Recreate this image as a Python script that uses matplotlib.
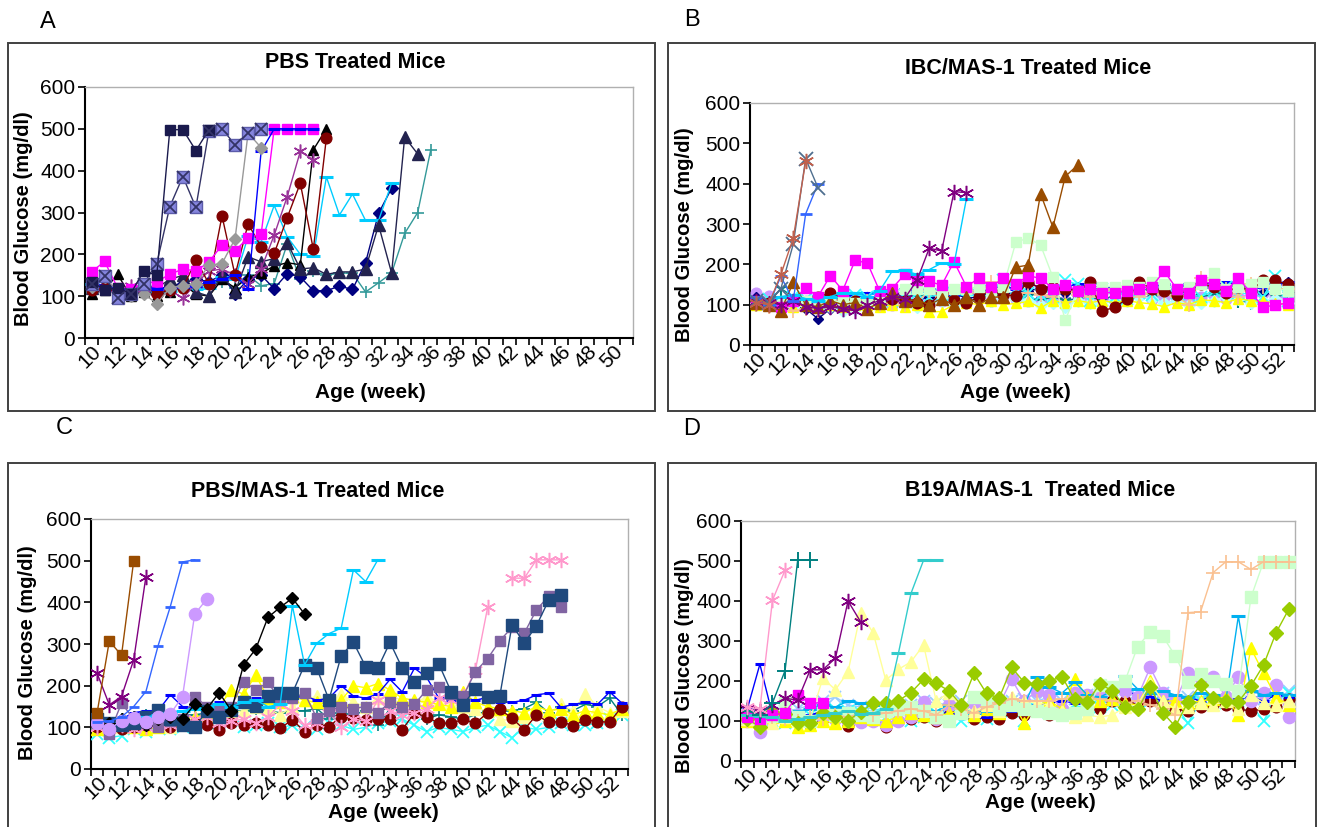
#Blood glucose vs age for the four treatment groups (panels A-D)

import matplotlib.pyplot as plt
import matplotlib.patches as patches
import numpy as np

nan = np.nan

#each list starts at week 10, one value per week

# ---- A: PBS treated mice
a_navy_sq = [135,115,120,106,160,150,498,498,448,498]
a_slate_box = [130,148,95,105,130,178,314,386,312,496,500,462,490,500]
a_grey_dia = [122,147,110,100,106,82,120,125,130,174,178,237,490,455]
a_blue_dash = [130,125,118,112,122,118,120,122,125,135,140,150,118,446,500,500,500,500]
a_magenta_sq = [158,183,120,118,130,135,152,165,160,182,222,208,240,248,500,500,500,500]
a_red_circ = [115,120,110,105,125,105,115,120,186,130,292,150,273,218,202,288,370,212,478]
a_purple_ast = [125,120,110,125,120,110,115,95,130,160,165,150,130,165,246,338,446,426]
a_black_tri = [105,115,152,100,110,100,110,130,105,100,140,120,145,155,172,180,175,450,500]
a_navy_tri = [120,130,115,110,125,120,140,150,110,100,150,110,194,182,190,228,165,168,152,158,
              158,165,270,155,480,440]
a_navy_dia = [130,125,115,110,120,115,125,130,140,135,150,106,140,150,118,154,146,113,113,124,
              116,180,298,358]
a_cyan_dash = [130,125,115,118,125,112,112,120,118,120,145,140,243,230,317,242,200,195,385,294,
               344,281,281,370]
a_teal_plus = [110,120,118,105,115,110,120,125,118,130,135,120,150,125,130,225,140,160,150,155,
               155,110,132,155,250,300,450]

# ---- B: IBC/MAS-1 treated mice
b_lavender = [130,122,105,100,110,105,100,95,100,105,110,100,105,110,115,110,105,110,115,110,
              120,115,110,115,120,110,115,120,115,110,120,125,115,120,110,115,120,125,115,120,
              125,130,120,115]
b_lcyan_dia = [105,110,100,95,100,90,95,85,90,95,100,105,100,95,105,110,100,105,115,110,
               120,115,110,100,105,95,110,105,100,115,110,120,115,105,110,100,105,110,120,115,
               105,110,115,105]
b_cyan_x = [110,115,105,120,115,110,100,105,125,120,115,110,125,130,120,125,130,120,125,135,
            160,140,130,125,120,160,150,110,140,120,115,130,125,140,130,125,120,135,145,130,
            125,120,170,110]
b_teal_tri = [100,105,140,120,110,105,95,100,105,110,115,120,125,120,125,130,120,125,130,120,
              125,120,118,110,120,110,115,120,110,125,130,115,120,125,130,125,120,125,130,110,
              105,100,120,125]
b_navy_dia = [120,100,90,95,90,65,90,100,105,110,115,120,115,110,120,125,130,115,120,130,
              125,130,135,140,135,130,145,140,140,145,130,140,135,140,125,135,150,155,145,140,
              135,130,150,155]
b_blue_dash = [120,110,95,100,110,105,115,120,125,130,125,130,140,135,140,130,125,140,130,140,
               145,140,150,145,140,145,150,140,145,140,135,150,145,150,140,150,145,150,155,150,
               140,145,150,155]
b_yellow_tri = [100,105,100,95,100,95,100,95,100,100,95,100,95,100,82,83,100,105,100,108,
                100,103,108,92,110,105,110,105,110,105,110,105,102,95,105,100,112,110,105,115,
                110,108,105,100]
b_peach_plus = [100,95,100,85,90,85,100,110,115,110,100,105,100,105,135,120,130,140,130,155,
                120,125,130,125,120,135,125,120,130,140,135,120,130,125,120,100,165,160,140,120,
                150,145,140,140]
b_red_circ = [110,105,100,110,105,118,130,115,110,105,110,115,110,105,100,130,112,103,120,135,
              125,122,157,140,145,140,135,155,85,93,115,155,140,135,125,140,150,145,130,145,
              135,160,160,150]
b_lgreen_sq = [105,100,110,115,110,100,105,110,105,110,120,130,140,140,138,130,140,138,145,135,
               145,255,265,248,168,62,135,140,145,145,148,145,155,150,140,145,150,178,140,145,
               150,155,140,135]
b_magenta_sq = [110,100,95,110,142,120,172,135,210,203,133,140,175,160,158,148,207,145,165,145,
                165,150,172,165,140,148,135,140,130,130,135,140,145,183,140,130,160,150,135,165,
                130,95,98,105]
b_brown_tri = [105,100,85,155,100,95,110,100,105,90,105,130,110,112,100,115,98,120,100,118,
               120,193,198,375,292,418,446]
b_purple_ast = [110,105,100,110,95,90,95,90,85,100,110,120,115,160,240,233,380,378]
b_cyan_dash = [115,100,120,125,115,110,120,130,130,120,135,183,185,175,187,203,200,362]
b_red_ast = [105,100,175,265,455]
b_grey_x = [110,105,140,250,462,390]
b_royal_dash = [118,100,170,110,325,400]

# ---- C: PBS/MAS-1 treated mice
c_cyan_x = [85,75,80,95,90,100,95,100,105,110,110,115,100,105,110,100,105,100,95,110,
            105,95,100,110,115,120,105,90,100,95,90,100,105,90,75,100,95,100,110,105,
            105,110,120,130]
c_teal_plus = [110,105,120,125,130,125,120,125,130,135,130,135,140,145,140,135,140,140,145,120,
               135,130,140,105,145,140,135,120,130,125,120,130,140,145,140,145,160,135,150,140,
               155,150,170,130]
c_lyellow_tri = [105,110,100,115,120,105,100,110,120,125,130,135,140,150,145,130,150,165,175,155,
                 180,160,150,170,175,165,155,175,160,155,150,145,140,120,115,125,135,130,155,140,
                 180,150,135,140]
c_yellow_tri = [95,100,105,100,95,100,110,120,125,130,150,190,180,225,170,160,175,165,160,155,
                165,200,195,205,190,170,165,160,155,150,185,160,150,145,140,135,150,140,145,130,
                140,135,130,145]
c_red_circ = [100,105,95,100,105,110,100,105,110,105,94,110,105,110,105,98,118,90,105,102,
              126,122,118,120,119,94,135,125,110,110,119,110,135,143,122,94,130,112,114,104,
              118,114,112,150]
c_blue_dash = [110,115,120,135,140,140,178,150,145,150,160,150,160,170,165,160,170,175,165,170,
               200,175,170,180,215,185,242,220,170,165,170,165,172,162,160,165,178,182,148,155,
               160,155,185,158]
c_pink_ast = [100,95,105,95,100,110,105,110,120,125,110,115,120,110,125,155,140,105,110,135,
              100,120,115,165,140,130,135,145,170,165,175,238,388,nan,458,458,502,502,502]
c_pgrey_sq = [110,85,158,120,110,100,115,120,174,150,140,150,210,190,208,165,170,182,122,140,
              150,145,150,135,160,150,155,190,198,180,175,234,265,308,340,326,382,415,388]
c_navy_sq = [120,110,105,110,125,142,120,105,100,140,125,142,160,152,176,182,182,250,242,166,
             272,304,246,242,304,242,208,230,252,186,154,193,172,176,346,302,344,405,418]
c_cyan_dash = [115,110,118,120,125,130,135,140,145,150,155,150,160,165,150,155,392,250,302,325,
               338,478,450,502]
c_black_dia = [115,110,120,125,105,120,125,120,155,145,183,140,250,288,364,388,410,372]
c_lav_circ = [110,95,116,122,114,126,132,174,372,408]
c_royal_dash = [112,115,125,150,186,296,390,497,502]
c_purple_ast = [230,154,174,262,462]
c_brown_sq = [135,307,273,500]

# ---- D: B19A/MAS-1 treated mice
d_lblue_x = [115,110,120,125,130,140,150,160,140,135,130,125,135,140,150,145,140,150,135,140,
             145,150,155,150,160,150,155,165,160,150,155,160,165,170,150,160,155,150,150,165,
             160,155,150,175]
d_cyan_x = [110,105,100,95,110,115,120,130,125,120,115,110,105,100,110,120,115,100,110,105,
            115,125,100,130,120,120,140,130,135,140,140,150,150,145,140,94,150,140,145,150,
            140,101,150,170]
d_red_circ = [120,110,105,100,95,90,105,110,88,100,110,85,100,105,110,100,115,120,105,110,
              105,120,115,125,115,120,120,125,130,150,150,145,150,140,130,125,135,140,140,130,
              125,130,135,154]
d_royal_dash = [130,242,115,120,110,115,125,120,115,110,118,120,125,120,115,110,120,115,105,110,
                120,125,130,140,145,150,145,150,160,180,175,165,160,150,155,160,150,165,160,155,
                160,150,165,160]
d_lav_circ = [100,73,105,110,115,100,110,105,100,98,100,90,100,110,148,105,140,120,145,130,
              140,204,150,175,165,130,170,165,175,180,175,160,234,170,150,221,207,211,160,211,
              150,170,190,109]
d_yellow_tri = [100,95,110,100,85,90,100,95,100,110,105,100,110,120,115,110,120,125,115,130,
                120,150,95,140,150,130,205,160,150,155,145,140,200,150,150,145,150,155,160,115,
                282,219,160,140]
d_sky_dash = [115,112,110,118,125,130,140,135,150,145,140,145,135,140,130,125,140,130,120,125,
              130,150,140,210,185,170,198,165,160,175,212,180,170,175,165,160,170,165,150,362,
              175,165,170,165]
d_lyellow_tri = [105,100,95,110,100,105,207,178,223,370,320,202,229,248,290,150,170,135,125,140,
                 125,160,150,145,140,125,110,115,110,115,135,140,195,150,130,135,145,140,150,130,
                 165,145,140,150]
d_lgreen_sq = [110,105,112,145,110,100,120,115,120,115,110,125,130,135,125,110,100,120,160,150,
               130,140,130,125,120,115,120,130,190,185,200,286,323,312,262,198,217,200,192,175,
               409,498,498,498]
d_peach_plus = [100,105,110,105,100,110,105,115,110,120,115,120,125,130,125,115,140,130,120,135,
                145,155,150,150,150,155,160,160,155,150,145,150,140,130,115,371,373,471,498,498,
                479,498,498,498]
d_green_dia = [104,86,123,117,94,94,119,111,101,123,144,146,151,171,204,194,176,140,219,169,
               157,234,196,192,200,211,154,148,192,176,134,129,186,121,86,148,190,157,151,148,
               188,240,321,379]
d_magenta_sq = [110,105,115,120,165,144,146]
d_teal_dash = [115,112,110,100,105,110,115,120,125,118,120,130,269,419,502,502]
d_purple_ast = [130,125,140,157,152,228,228,257,400,348]
d_teal_plus = [125,115,145,226,502,502]
d_pink_ast = [135,130,402,477]

# asterisk marker like the Excel "star"
AST = (6, 2, 0)

W, H = 1321, 827
fig = plt.figure(figsize=(W/100, H/100), dpi=100)
plt.rcParams['font.family'] = ['Liberation Sans', 'DejaVu Sans']


def fx(x):
    return x/W


def fy(y):
    return 1 - y/H


def series(ax, vals, color, marker, ms=6, mec=None, lw=1.0, mew=1.0, mfc=None):
    wk = 10 + np.arange(len(vals))
    ax.plot(wk, vals, color=color, lw=lw, marker=marker, ms=ms*1.1,
            mfc=color if mfc is None else mfc,
            mec=color if mec is None else mec, mew=mew, zorder=3)


def panel(box, frame, letter, letter_xy, title, title_xy, ylab_xy, xlab_xy, last):
    l, t, r, b = box
    fig.patches.append(patches.Rectangle((fx(frame[0]), fy(frame[3])),
                                         fx(frame[2]-frame[0]), (frame[3]-frame[1])/H,
                                         transform=fig.transFigure, fill=False,
                                         ec='#404040', lw=1.4))
    ax = fig.add_axes([fx(l), fy(b), fx(r-l), (b-t)/H])
    ax.set_xlim(9.5, last+0.5)
    ax.set_ylim(0, 600)
    ax.set_yticks(range(0, 601, 100))
    ax.set_xticks(np.arange(9.5, last+1, 1))
    ax.set_xticklabels([])
    ev = list(range(10, last+1, 2))
    ax.set_xticks(ev, minor=True)
    ax.set_xticklabels([str(v) for v in ev], minor=True, rotation=45,
                       ha='right', va='top', rotation_mode='anchor', fontsize=15)
    ax.tick_params(axis='x', which='major', direction='out', length=5, width=1.2)
    ax.tick_params(axis='x', which='minor', length=0, pad=3)
    ax.tick_params(axis='y', direction='out', length=5, width=1.2, labelsize=15, pad=2)
    for s in ['top', 'right']:
        ax.spines[s].set_color('#b0b0b0')
        ax.spines[s].set_linewidth(1)
    for s in ['left', 'bottom']:
        ax.spines[s].set_linewidth(1.5)
    fig.text(fx(letter_xy[0]), fy(letter_xy[1]), letter, fontsize=17,
             ha='center', va='center')
    fig.text(fx(title_xy[0]), fy(title_xy[1]), title, fontsize=15.5,
             fontweight='bold', ha='center', va='center')
    fig.text(fx(ylab_xy[0]), fy(ylab_xy[1]), 'Blood Glucose (mg/dl)', fontsize=14.5,
             fontweight='bold', rotation=90, ha='center', va='center')
    fig.text(fx(xlab_xy[0]), fy(xlab_xy[1]), 'Age (week)', fontsize=15,
             fontweight='bold', ha='center', va='center')
    return ax


# ---- panel A
ax = panel((85, 87, 633, 338), (8, 43, 655, 411), 'A', (48, 22), 'PBS Treated Mice',
           (355, 62), (24, 219), (370, 392), 51)
series(ax, a_teal_plus, '#339999', '+', ms=8, mew=1.2)
series(ax, a_navy_dia, '#000080', 'D', ms=5.5)
series(ax, a_cyan_dash, '#00ccff', '_', ms=9, mew=2.2)
series(ax, a_black_tri, '#000000', '^', ms=7)
series(ax, a_navy_tri, '#23234f', '^', ms=7.5)
series(ax, a_purple_ast, '#993399', AST, ms=9, mew=1.1)
series(ax, a_red_circ, '#800000', 'o', ms=7)
series(ax, a_magenta_sq, '#ff00ff', 's', ms=6.5)
series(ax, a_blue_dash, '#0000ff', '_', ms=8, mew=2.2)
series(ax, a_grey_dia, '#999999', 'D', ms=6)
series(ax, a_slate_box, '#333366', 's', ms=7.5, mfc='#8585dd', mec='#5c5caa')
ax.plot(10 + np.arange(len(a_slate_box)), a_slate_box, ls='none', marker='x', ms=8,
        mec='#333366', mew=1.3, zorder=4)
series(ax, a_navy_sq, '#1a1a4d', 's', ms=7)

# ---- panel B
ax = panel((750, 103, 1294, 345), (668, 43, 1315, 411), 'B', (692, 20),
           'IBC/MAS-1 Treated Mice', (1028, 68), (685, 235), (1015, 393), 53)
series(ax, b_lavender, '#cc99ff', 'o', ms=7)
series(ax, b_teal_tri, '#008080', '1', ms=9, mew=1.5)
series(ax, b_navy_dia, '#000080', 'D', ms=5)
series(ax, b_blue_dash, '#0000ff', '_', ms=8, mew=2.2)
series(ax, b_lcyan_dia, '#b3ffff', 'D', ms=6)
series(ax, b_cyan_x, '#33ffff', 'x', ms=8, mew=1.3)
series(ax, b_yellow_tri, '#ffff00', '^', ms=7)
series(ax, b_peach_plus, '#fac090', '+', ms=9, mew=1.2)
series(ax, b_red_circ, '#800000', 'o', ms=7)
series(ax, b_lgreen_sq, '#ccffcc', 's', ms=7)
series(ax, b_magenta_sq, '#ff00ff', 's', ms=7)
series(ax, b_brown_tri, '#994c00', '^', ms=8)
series(ax, b_cyan_dash, '#00ccff', '_', ms=9, mew=2.2)
series(ax, b_purple_ast, '#800080', AST, ms=10, mew=1.1)
series(ax, b_royal_dash, '#3366ff', '_', ms=8, mew=2)
series(ax, b_grey_x, '#4f6f8f', 'x', ms=9, mew=1.3)
series(ax, b_red_ast, '#c0604d', AST, ms=10, mew=1.1)

# ---- panel C
ax = panel((91, 519, 628, 769), (8, 463, 655, 840), 'C', (64, 428),
           'PBS/MAS-1 Treated Mice', (318, 491), (28, 653), (383, 812), 53)
series(ax, c_cyan_x, '#33ffff', 'x', ms=8, mew=1.3)
series(ax, c_teal_plus, '#008080', '+', ms=8, mew=1.2)
series(ax, c_lyellow_tri, '#ffff99', '^', ms=7.5)
series(ax, c_yellow_tri, '#ffff00', '^', ms=7.5)
series(ax, c_red_circ, '#800000', 'o', ms=7)
series(ax, c_blue_dash, '#0000ff', '_', ms=7, mew=2.2)
series(ax, c_pink_ast, '#ff99cc', AST, ms=10, mew=1.1)
series(ax, c_pgrey_sq, '#8064a2', 's', ms=7)
series(ax, c_navy_sq, '#1f497d', 's', ms=8)
series(ax, c_cyan_dash, '#00ccff', '_', ms=9, mew=2.2)
series(ax, c_black_dia, '#000000', 'D', ms=6)
series(ax, c_lav_circ, '#cc99ff', 'o', ms=8)
series(ax, c_royal_dash, '#3366ff', '_', ms=7, mew=2)
series(ax, c_purple_ast, '#800080', AST, ms=10, mew=1.1)
series(ax, c_brown_sq, '#994c00', 's', ms=7)

# ---- panel D
ax = panel((741, 521, 1295, 761), (668, 463, 1316, 840), 'D', (692, 429),
           'B19A/MAS-1  Treated Mice', (1040, 490), (685, 666), (1040, 803), 53)
series(ax, d_lblue_x, '#99ccff', 'x', ms=8, mew=1.3)
series(ax, d_cyan_x, '#33ffff', 'x', ms=8, mew=1.3)
series(ax, d_red_circ, '#800000', 'o', ms=7)
series(ax, d_royal_dash, '#0000ff', '_', ms=7, mew=2.2)
series(ax, d_lav_circ, '#cc99ff', 'o', ms=8)
series(ax, d_yellow_tri, '#ffff00', '^', ms=7.5)
series(ax, d_sky_dash, '#00b0f0', '_', ms=9, mew=2.2)
series(ax, d_lyellow_tri, '#ffff99', '^', ms=7.5)
series(ax, d_lgreen_sq, '#ccffcc', 's', ms=7.5)
series(ax, d_peach_plus, '#fac090', '+', ms=9, mew=1.2)
series(ax, d_green_dia, '#99cc00', 'D', ms=6.5)
series(ax, d_magenta_sq, '#ff00ff', 's', ms=7)
series(ax, d_teal_dash, '#33cccc', '_', ms=9, mew=2.2)
series(ax, d_purple_ast, '#800080', AST, ms=10, mew=1.1)
series(ax, d_teal_plus, '#008080', '+', ms=10, mew=1.4)
series(ax, d_pink_ast, '#ff99cc', AST, ms=10, mew=1.1)

plt.savefig('out.png', dpi=100)
